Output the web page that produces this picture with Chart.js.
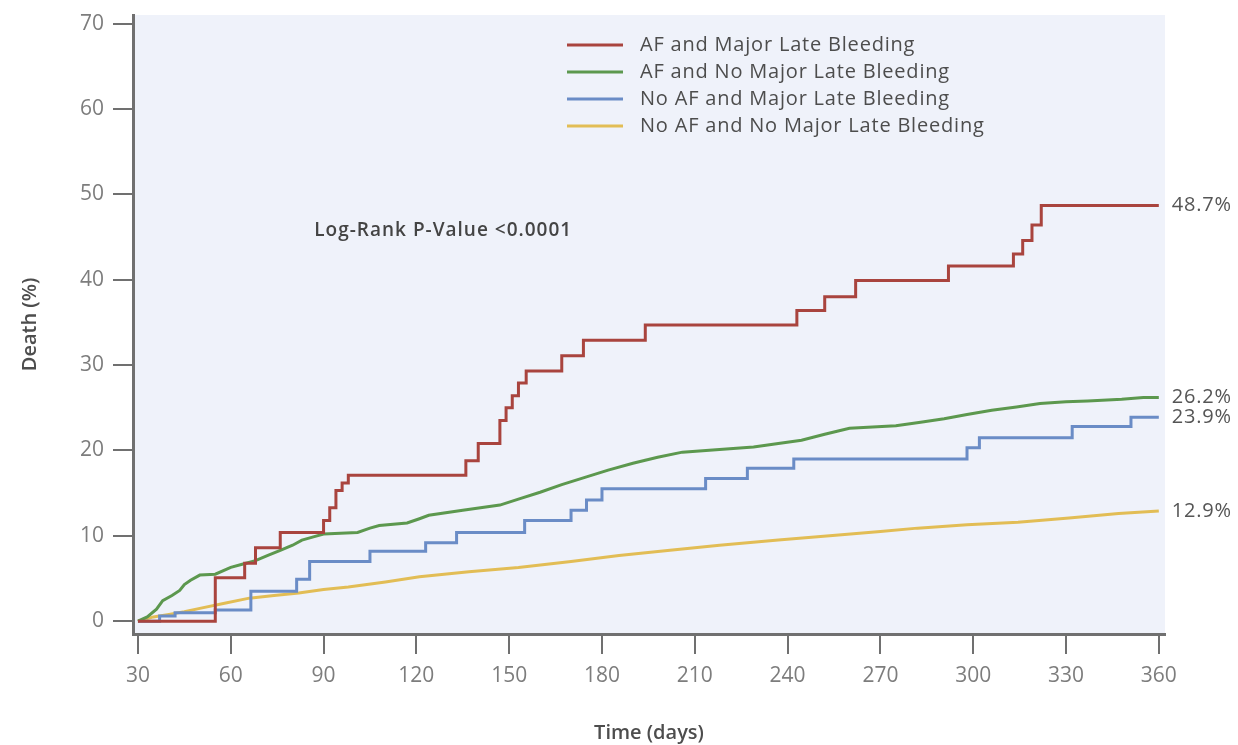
<!DOCTYPE html>
<html lang="en">
<head>
<meta charset="UTF-8"/>
<title>Death (%) by AF and major late bleeding</title>
<script src="https://cdn.jsdelivr.net/npm/chart.js"></script>
<style>
  body { margin: 0; background: #fff; }
</style>
</head>
<body>
<canvas id="kmChart" width="1238" height="745"></canvas>

<script>
/* ===== data ===== */
const seriesLabels = [
  'AF and Major Late Bleeding',
  'AF and No Major Late Bleeding',
  'No AF and Major Late Bleeding',
  'No AF and No Major Late Bleeding'
];
const seriesColors = ['#a9443e', '#5c984e', '#6a8cc6', '#e2bd55'];
const endLabels = ['48.7%', '26.2%', '23.9%', '12.9%'];
const xTicks = [30, 60, 90, 120, 150, 180, 210, 240, 270, 300, 330, 360];
const yTicks = [0, 10, 20, 30, 40, 50, 60, 70];

// AF and Major Late Bleeding
const redDays = [30, 55, 64.5, 68, 76, 90, 92, 94, 96, 98, 136, 140, 147, 149, 151, 153, 155.5, 167, 174, 194, 243, 252, 262, 292, 313, 316, 319, 322, 360];
const redPct  = [0, 5.1, 6.8, 8.6, 10.4, 11.8, 13.3, 15.3, 16.2, 17.1, 18.8, 20.8, 23.5, 25.0, 26.4, 27.9, 29.3, 31.1, 32.9, 34.7, 36.4, 38.0, 39.9, 41.6, 43.0, 44.6, 46.4, 48.7, 48.7];

// AF and No Major Late Bleeding
const greenDays = [30, 33, 36, 38, 41, 43.5, 45, 47, 50, 55, 60, 64, 68, 72, 76, 80, 83, 87, 90, 101, 105, 108, 117, 121, 124, 135, 147, 153, 160, 167, 175, 182, 190, 198, 206, 218, 229, 237, 244.5, 252, 260, 275, 283, 290.6, 298, 306, 314, 321.6, 330, 337, 348, 355, 360];
const greenPct  = [0, 0.5, 1.4, 2.4, 3.0, 3.6, 4.3, 4.8, 5.4, 5.5, 6.3, 6.7, 7.1, 7.7, 8.3, 8.9, 9.5, 9.9, 10.2, 10.4, 10.9, 11.2, 11.5, 12.0, 12.4, 13.0, 13.6, 14.3, 15.1, 16.0, 16.9, 17.7, 18.5, 19.2, 19.8, 20.1, 20.4, 20.8, 21.2, 21.9, 22.6, 22.9, 23.3, 23.7, 24.2, 24.7, 25.1, 25.5, 25.7, 25.8, 26.0, 26.2, 26.2];

// No AF and Major Late Bleeding
const blueDays = [30, 37, 42, 55, 66.5, 81.3, 85.5, 105, 123, 133, 155, 170, 175, 180, 213.5, 227, 242, 298, 302, 332, 351, 360];
const bluePct  = [0, 0.6, 1.0, 1.3, 3.5, 4.9, 7.0, 8.2, 9.2, 10.4, 11.8, 13.0, 14.2, 15.5, 16.7, 17.9, 19.0, 20.3, 21.5, 22.8, 23.9, 23.9];

// No AF and No Major Late Bleeding
const yellowDays = [30, 35, 40, 45, 50, 58, 66, 74, 82, 90, 98, 110, 121, 137, 153, 170, 185.5, 202, 218, 237, 256.5, 270, 282, 298, 314.5, 331, 347, 360];
const yellowPct  = [0, 0.5, 0.8, 1.1, 1.5, 2.1, 2.7, 3.0, 3.3, 3.7, 4.0, 4.6, 5.2, 5.8, 6.3, 7.0, 7.7, 8.3, 8.9, 9.5, 10.1, 10.5, 10.9, 11.3, 11.6, 12.1, 12.6, 12.9];

const toPoints = (xs, ys) => xs.map((d, i) => ({ x: d, y: ys[i] }));
const seriesData = [
  toPoints(redDays, redPct),
  toPoints(greenDays, greenPct),
  toPoints(blueDays, bluePct),
  toPoints(yellowDays, yellowPct)
];
const seriesStepped = [true, false, true, false];

/* ===== plugins ===== */
// light blue plot background
const plotBg = {
  id: 'plotBg',
  beforeDraw(chart) {
    const { ctx, chartArea: a } = chart;
    ctx.save();
    ctx.fillStyle = '#eff2fa';
    ctx.fillRect(a.left, a.top, a.right - a.left, a.bottom - a.top);
    ctx.restore();
  }
};

// legend inside the plot, end-of-curve labels, log-rank note
const extraText = {
  id: 'extraText',
  afterDatasetsDraw(chart) {
    const { ctx, chartArea: a, scales: { x, y } } = chart;
    ctx.save();
    ctx.textBaseline = 'middle';
    ctx.textAlign = 'left';
    chart.data.datasets.forEach((ds, i) => {
      const ly = a.top + 30 + i * 27;
      ctx.strokeStyle = ds.borderColor;
      ctx.lineWidth = 3;
      ctx.beginPath();
      ctx.moveTo(a.left + 434, ly);
      ctx.lineTo(a.left + 490, ly);
      ctx.stroke();
      ctx.font = '20px "Open Sans"';
      ctx.letterSpacing = '0.8px';
      ctx.fillStyle = '#4d4d4d';
      ctx.fillText(ds.label, a.left + 507, ly);

      const last = chart.getDatasetMeta(i).data.at(-1);
      ctx.font = '20px "Open Sans"';
      ctx.fillStyle = '#555';
      ctx.fillText(endLabels[i], last.x + 13, last.y);
    });
    ctx.font = '600 19px "Open Sans"';
    ctx.letterSpacing = '1px';
    ctx.fillStyle = '#444';
    ctx.fillText('Log-Rank P-Value <0.0001', x.getPixelForValue(87), y.getPixelForValue(45.7));
    ctx.restore();
  }
};

Chart.defaults.font.family = '"Open Sans", sans-serif';

new Chart(document.getElementById('kmChart').getContext('2d'), {
  type: 'line',
  data: {
    datasets: seriesLabels.map((lab, i) => ({
      label: lab,
      data: seriesData[i],
      borderColor: seriesColors[i],
      backgroundColor: seriesColors[i],
      borderWidth: 3,
      pointRadius: 0,
      fill: false,
      tension: 0,
      stepped: seriesStepped[i] ? 'before' : false
    }))
  },
  options: {
    responsive: false,
    animation: false,
    layout: { padding: { left: 0, top: 15, right: 73, bottom: 0 } },
    plugins: {
      legend: { display: false },
      tooltip: { enabled: false }
    },
    scales: {
      x: {
        type: 'linear',
        min: 28.4,
        max: 362,
        afterBuildTicks: s => { s.ticks = xTicks.map(v => ({ value: v })); },
        afterFit: s => { s.height = 111; s.paddingLeft = 0; s.paddingRight = 0; },
        grid: { drawOnChartArea: false, drawTicks: true, tickLength: 20, color: '#707070', lineWidth: 2 },
        border: { color: '#707070', width: 3 },
        ticks: { color: '#7d7d7d', font: { size: 21 }, padding: 9, maxRotation: 0, autoSkip: false },
        title: { display: true, text: 'Time (days)', color: '#4d4d4d', font: { size: 20, weight: '600' }, padding: 0 }
      },
      y: {
        min: -1.5,
        max: 71,
        afterBuildTicks: s => { s.ticks = yTicks.map(v => ({ value: v })); },
        afterFit: s => { s.width = 133; s.paddingTop = 0; s.paddingBottom = 0; },
        grid: { drawOnChartArea: false, drawTicks: true, tickLength: 20, color: '#707070', lineWidth: 2 },
        border: { color: '#707070', width: 3 },
        ticks: { color: '#7d7d7d', font: { size: 21 }, padding: 9 },
        title: { display: true, text: 'Death (%)', color: '#4d4d4d', font: { size: 20, weight: '600' }, padding: 18 }
      }
    }
  },
  plugins: [plotBg, extraText]
});
</script>
</body>
</html>
